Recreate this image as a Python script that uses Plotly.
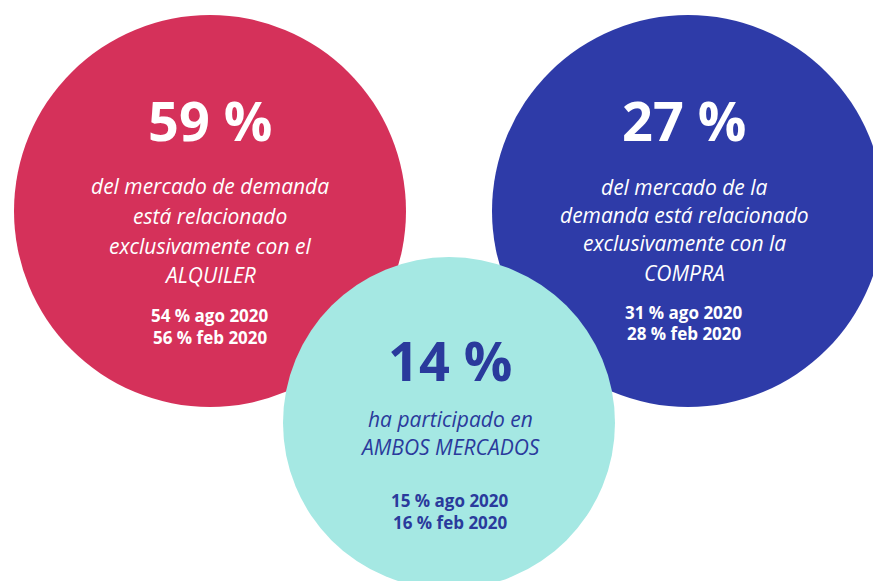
import plotly.graph_objects as go

# Datos del gráfico
cifras = ["59 %", "27 %", "14 %"]
descripciones = [
    ["del mercado de demanda", "está relacionado", "exclusivamente con el", "ALQUILER"],
    ["del mercado de la", "demanda está relacionado", "exclusivamente con la", "COMPRA"],
    ["ha participado en", "AMBOS MERCADOS"],
]
historico = [
    ["54 % ago 2020", "56 % feb 2020"],
    ["31 % ago 2020", "28 % feb 2020"],
    ["15 % ago 2020", "16 % feb 2020"],
]

# Estilo y posiciones (en píxeles del lienzo)
W, H = 873, 581
circulos = [
    dict(cx=210, cy=211, r=196, color="#D5315A", texto="white", tx=210),
    dict(cx=688, cy=211, r=196, color="#2E3BA8", texto="white", tx=684),
    dict(cx=449, cy=423, r=166, color="#A5E8E3", texto="#2A3A9C", tx=450),
]
y_cifra = [120, 120, 360]
y_desc = [[186, 216, 246, 275], [187, 215, 243, 273], [419, 447]]
y_hist = [[315, 337], [312, 333], [500, 522]]

fig = go.Figure()

for c in circulos:
    fig.add_shape(
        type="circle",
        xref="x", yref="y",
        x0=c["cx"] - c["r"], x1=c["cx"] + c["r"],
        y0=c["cy"] - c["r"], y1=c["cy"] + c["r"],
        fillcolor=c["color"],
        line_width=0,
        layer="below",
    )

for i, c in enumerate(circulos):
    fig.add_annotation(
        x=c["tx"], y=y_cifra[i], text=f"<b>{cifras[i]}</b>",
        showarrow=False, xanchor="center", yanchor="middle",
        font=dict(family="Open Sans", size=54, color=c["texto"]),
    )
    for linea, y in zip(descripciones[i], y_desc[i]):
        fig.add_annotation(
            x=c["tx"], y=y, text=f"<i>{linea}</i>",
            showarrow=False, xanchor="center", yanchor="middle",
            font=dict(family="Open Sans", size=21, color=c["texto"]),
        )
    for linea, y in zip(historico[i], y_hist[i]):
        fig.add_annotation(
            x=c["tx"], y=y, text=f"<b>{linea}</b>",
            showarrow=False, xanchor="center", yanchor="middle",
            font=dict(family="Open Sans", size=17, color=c["texto"]),
        )

fig.update_xaxes(range=[0, W], visible=False, fixedrange=True)
fig.update_yaxes(range=[H, 0], visible=False, fixedrange=True)
fig.update_layout(
    width=W, height=H,
    margin=dict(l=0, r=0, t=0, b=0),
    paper_bgcolor="white",
    plot_bgcolor="white",
    showlegend=False,
)

# sin margen del body para que el lienzo ocupe la ventana entera
fig.write_html(
    "out.html",
    config={"displayModeBar": False},
    post_script="document.body.style.margin='0';document.body.style.overflow='hidden';",
)
